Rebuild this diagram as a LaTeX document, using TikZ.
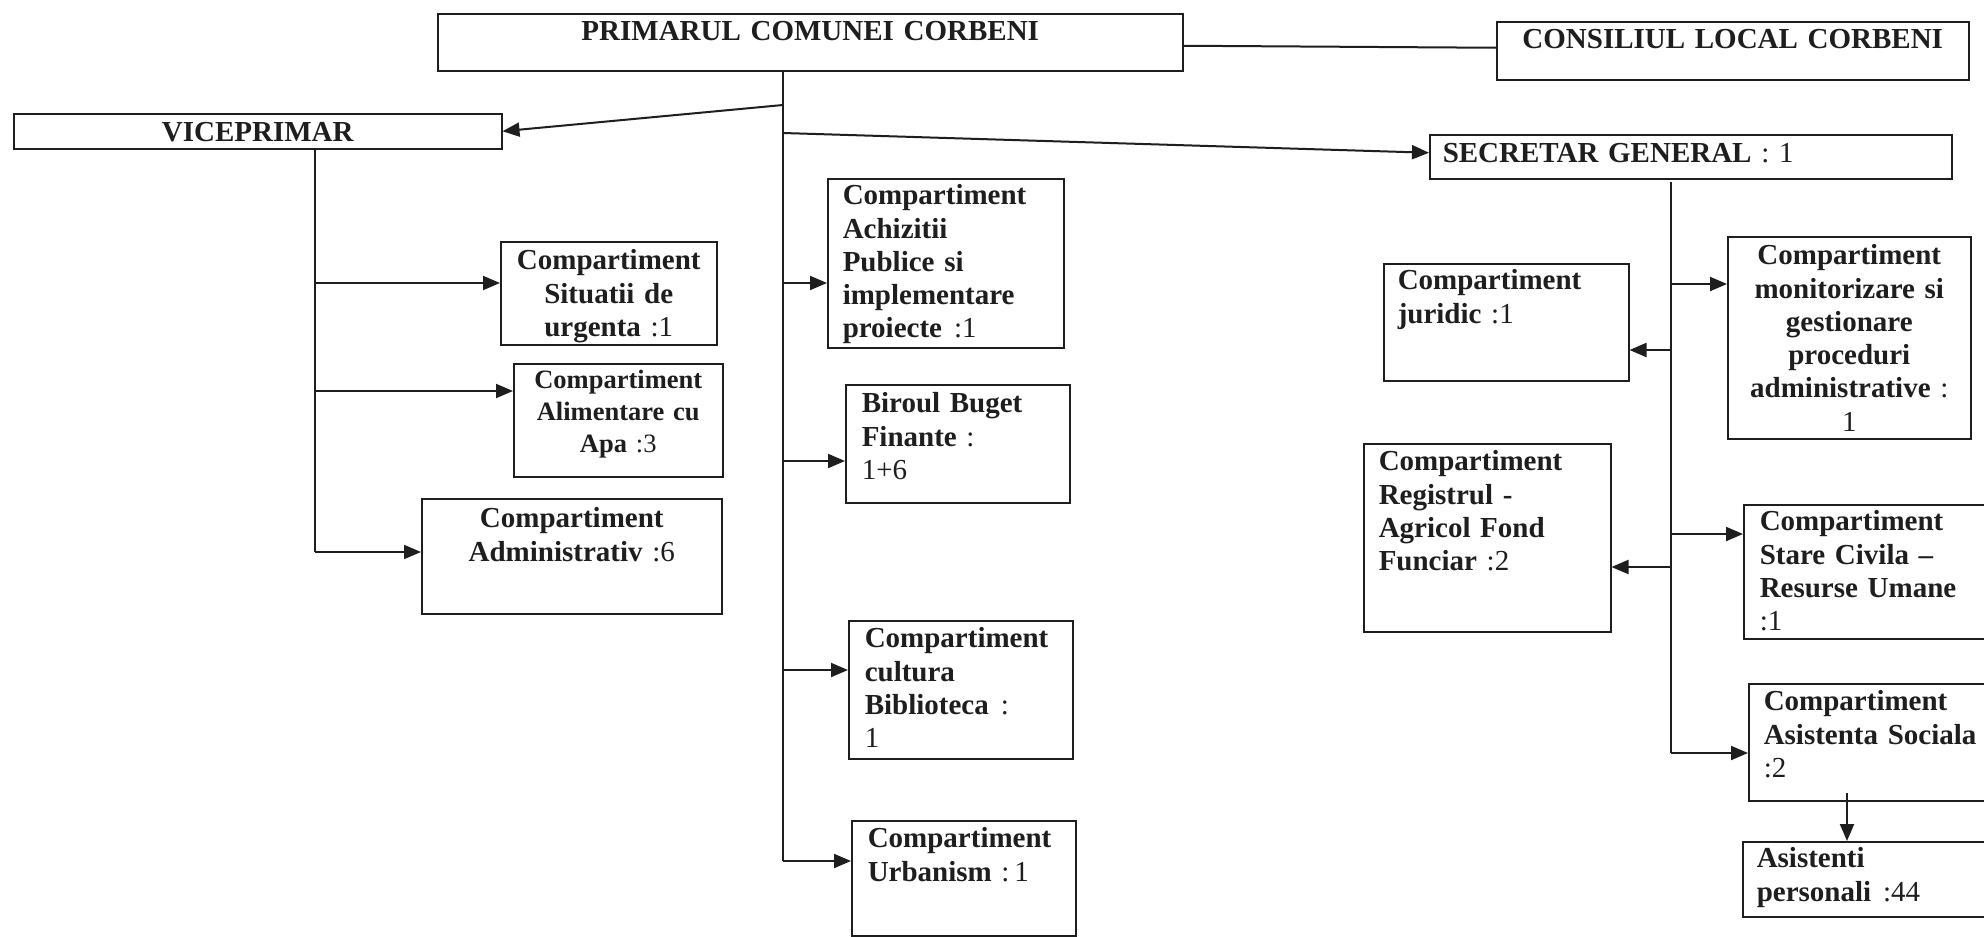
\documentclass[tikz,border=0pt]{standalone}
\usepackage{fontspec}
\setmainfont{Liberation Serif}
\usetikzlibrary{arrows.meta}
\newcommand{\regtxt}[1]{{\mdseries #1}}
\definecolor{ink}{RGB}{30,30,30}
\begin{document}
\begin{tikzpicture}[x=1pt,y=-1pt,
  bx/.style={draw=ink, line width=1.5pt, anchor=north west, inner ysep=0pt, inner xsep=0pt,
             font=\bfseries\fontsize{29}{33.3}\selectfont, text=ink},
  ln/.style={draw=ink, line width=2pt},
  arr/.style={ln, -{Triangle[length=17pt,width=14pt]}}]
\useasboundingbox[fill=white] (0,0) rectangle (1984,937);

% top level
\node[bx, text width=745pt, align=center] (prim) at (437,13)
  {\rule{0pt}{27pt}PRIMARUL COMUNEI CORBENI\rule[-30pt]{0pt}{30pt}};
\node[bx, text width=472pt, align=center] (cons) at (1496,21)
  {\rule{0pt}{27pt}CONSILIUL LOCAL CORBENI\rule[-31pt]{0pt}{31pt}};
\node[bx, text width=488pt, align=center] (vice) at (13,113)
  {\rule{0pt}{28pt}VICEPRIMAR\rule[-7pt]{0pt}{7pt}};
\node[bx, inner xsep=13pt, text width=496pt, align=left] (sec) at (1429,134)
  {\rule{0pt}{28pt}SECRETAR GENERAL \regtxt{: 1}\rule[-16pt]{0pt}{16pt}};

% viceprimar branch
\node[bx, text width=216pt, align=center] (sit) at (500,241)
  {\rule{0pt}{28pt}Compartiment\\Situatii de\\urgenta \regtxt{:1}\rule[-8.4pt]{0pt}{8.4pt}};
\node[bx, text width=209pt, align=center, font=\bfseries\fontsize{26.5}{31.7}\selectfont] (ali) at (513,363)
  {\rule{0pt}{25pt}Compartiment\\Alimentare cu\\Apa \regtxt{:3}\rule[-24.6pt]{0pt}{24.6pt}};
\node[bx, text width=300pt, align=center] (adm) at (421,498)
  {\rule{0pt}{29pt}Compartiment\\Administrativ \regtxt{:6}\rule[-52.7pt]{0pt}{52.7pt}};

% central branch
\node[bx, inner xsep=15pt, text width=206pt, align=left] (ach) at (827,178)
  {\rule{0pt}{26pt}Compartiment\\Achizitii\\Publice si\\implementare\\proiecte\hspace{12pt}\regtxt{:1}\rule[-9.8pt]{0pt}{9.8pt}};
\node[bx, inner xsep=16pt, text width=192pt, align=left] (bir) at (845,384)
  {\rule{0pt}{28pt}Biroul Buget\\Finante \regtxt{:}\\\regtxt{1+6}\rule[-23.4pt]{0pt}{23.4pt}};
\node[bx, inner xsep=16pt, text width=192pt, align=left] (cul) at (848,620)
  {\rule{0pt}{27pt}Compartiment\\cultura\\Biblioteca\hspace{12pt}\regtxt{:}\\\regtxt{1}\rule[-11.1pt]{0pt}{11.1pt}};
\node[bx, inner xsep=16pt, text width=192pt, align=left] (urb) at (851,820)
  {\rule{0pt}{27pt}Compartiment\\Urbanism \regtxt{:\,1}\rule[-54.7pt]{0pt}{54.7pt}};

% secretar branch
\node[bx, inner xsep=14pt, text width=217pt, align=left] (jur) at (1383,263)
  {\rule{0pt}{26pt}Compartiment\\juridic \regtxt{:1}\rule[-57.7pt]{0pt}{57.7pt}};
\node[bx, text width=243pt, align=center] (mon) at (1727,236)
  {\rule{0pt}{28pt}Compartiment\\monitorizare si\\gestionare\\proceduri\\administrative \regtxt{:}\\\regtxt{1}\rule[-7.5pt]{0pt}{7.5pt}};
\node[bx, inner xsep=15pt, text width=217pt, align=left] (reg) at (1363,443)
  {\rule{0pt}{27pt}Compartiment\\Registrul -\\Agricol Fond\\Funciar \regtxt{:2}\rule[-61.1pt]{0pt}{61.1pt}};
\node[bx, inner xsep=16pt, text width=220pt, align=left] (sta) at (1743,504)
  {\rule{0pt}{26pt}Compartiment\\Stare Civila –\\Resurse Umane\\\regtxt{:1}\rule[-8.1pt]{0pt}{8.1pt}};
\node[bx, inner xsep=15pt, text width=225pt, align=left] (asi) at (1748,683)
  {\rule{0pt}{27pt}Compartiment\\Asistenta Sociala\\\regtxt{:2}\rule[-23.4pt]{0pt}{23.4pt}};
\node[bx, inner xsep=14pt, text width=225pt, align=left] (ast) at (1742,841)
  {\rule{0pt}{26pt}Asistenti\\personali\hspace{12pt}\regtxt{:44}\rule[-15.7pt]{0pt}{15.7pt}};

% connector points
\coordinate (mt) at (783,70);
\coordinate (mb) at (783,861);
\coordinate (m1) at (783,105);
\coordinate (m2) at (783,133);
\coordinate (m3) at (783,283);
\coordinate (m4) at (783,461);
\coordinate (m5) at (783,670);
\coordinate (vt) at (315,148);
\coordinate (vb) at (315,552);
\coordinate (v1) at (315,283);
\coordinate (v2) at (315,391);
\coordinate (st) at (1671,182);
\coordinate (sb) at (1671,753);
\coordinate (s1) at (1671,284);
\coordinate (s2) at (1671,350);
\coordinate (s3) at (1671,534);
\coordinate (s4) at (1671,567);
\coordinate (ax) at (1847,793);

% connectors
\draw[ln] ([yshift=-3.5pt]prim.east) -- ([yshift=3pt]cons.west);
\draw[ln] (mt) -- (mb);
\draw[arr] (mb) -- (mb -| urb.west);
\draw[arr] (m1) -- (vice.east);
\draw[arr] (m2) -- ([yshift=4pt]sec.west);
\draw[arr] (m3) -- (m3 -| ach.west);
\draw[arr] (m4) -- (m4 -| bir.west);
\draw[arr] (m5) -- (m5 -| cul.west);

\draw[ln] (vt) -- (vb);
\draw[arr] (vb) -- (vb -| adm.west);
\draw[arr] (v1) -- (v1 -| sit.west);
\draw[arr] (v2) -- (v2 -| ali.west);

\draw[ln] (st) -- (sb);
\draw[arr] (sb) -- (sb -| asi.west);
\draw[arr] (s1) -- (s1 -| mon.west);
\draw[arr] (s2) -- (s2 -| jur.east);
\draw[arr] (s3) -- (s3 -| sta.west);
\draw[arr] (s4) -- (s4 -| reg.east);
\draw[arr] (ax) -- (ax |- ast.north);
\end{tikzpicture}
\end{document}
